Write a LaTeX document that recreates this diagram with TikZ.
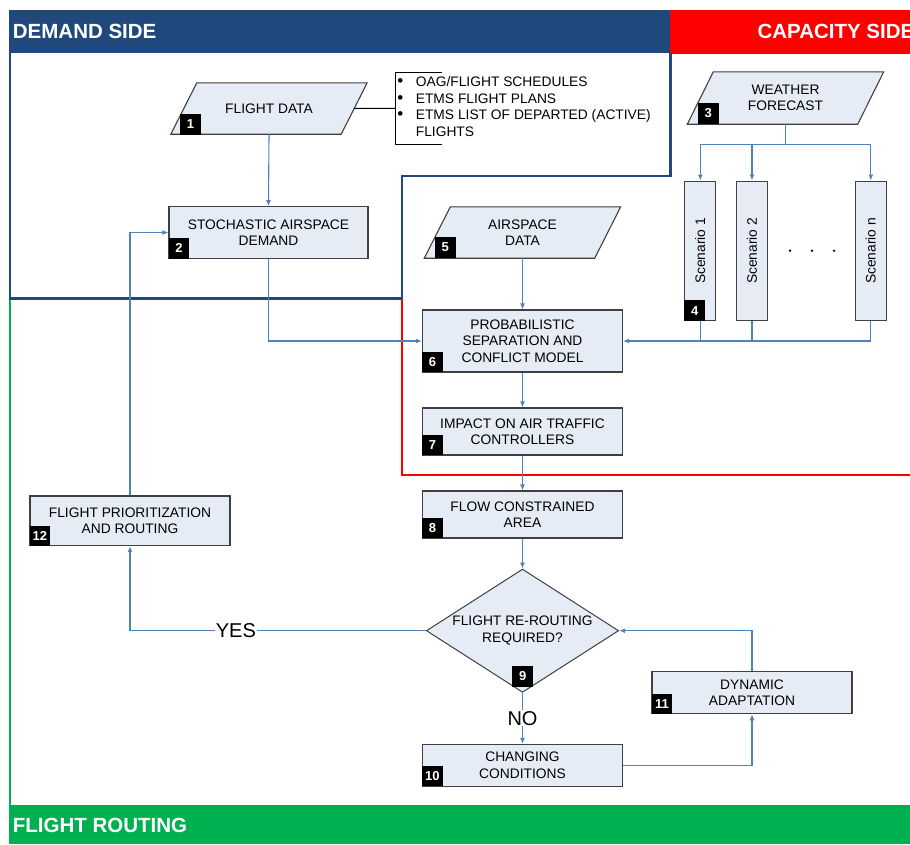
\documentclass[tikz,border=0pt]{standalone}
\usepackage{fontspec}
\setmainfont{Liberation Sans}
\usetikzlibrary{shapes.geometric,arrows.meta,calc}
\definecolor{demandblue}{RGB}{31,73,125}
\definecolor{capred}{RGB}{255,0,0}
\definecolor{routegreen}{RGB}{0,176,80}
\definecolor{boxfill}{RGB}{230,236,246}
\definecolor{boxedge}{RGB}{64,64,64}
\definecolor{linkblue}{RGB}{79,129,189}
\pgfdeclarelayer{background}
\pgfsetlayers{background,main}
\begin{document}
\begin{tikzpicture}[x=1pt,y=-1pt,
  every node/.style={font=\fontsize{13.8}{16.5}\selectfont},
  proc/.style={draw=boxedge, line width=1.1pt, fill=boxfill, minimum width=200pt,
    align=center, inner sep=0pt},
  % text area of a data parallelogram; the slanted outline is drawn behind it
  datatext/.style={minimum width=170pt, minimum height=51pt, align=center, inner sep=0pt},
  datashape/.style={draw=boxedge, line width=1.1pt, fill=boxfill, line join=miter},
  decision/.style={diamond, aspect=1.56, draw=boxedge, line width=1pt, fill=boxfill,
    minimum width=192.3pt, minimum height=123.3pt, align=center, inner sep=0pt},
  scen/.style={draw=boxedge, line width=1.1pt, fill=boxfill, minimum width=31pt,
    minimum height=139.5pt, inner sep=0pt},
  numbox/.style={fill=black, text=white, font=\bfseries\fontsize{13}{13}\selectfont,
    minimum size=20.5pt, inner sep=0pt},
  headtext/.style={text=white, font=\bfseries\fontsize{20.5}{22}\selectfont, inner sep=0pt},
  bigtext/.style={font=\fontsize{20}{22}\selectfont, fill=white, inner sep=1pt},
  link/.style={draw=linkblue, line width=1.1pt, -{Latex[length=6pt,width=5pt]}},
  linkline/.style={draw=linkblue, line width=1.1pt},
  region/.style={line width=2.4pt},
]
\useasboundingbox (0,0) rectangle (910,844);

% section headers
\fill[demandblue] (8.5,9.5) rectangle (670,53);
\fill[capred] (670,9.5) rectangle (912,54);
\fill[routegreen] (8.5,805) rectangle (912,844);
\node[headtext, anchor=base west] (hdemand) at (12.7,38.3) {DEMAND SIDE};
\node[headtext, anchor=base west] (hcap) at (757.3,38.3) {CAPACITY SIDE};
\node[headtext, anchor=base west] (hroute) at (12.7,832.7) {FLIGHT ROUTING};

% section outlines
\draw[routegreen, region] (10,298) -- (10,806);
\draw[capred, region] (402,176) -- (402,475) -- (912,475);
\draw[demandblue, region] (10,53) -- (10,298.5) -- (402,298.5) -- (402,176)
  -- (670.5,176) -- (670.5,53);

% data inputs
\node[datatext] (fd) at (269,108.5) {FLIGHT DATA};
\node[datatext, minimum height=52pt] (wf) at (785.5,98) {WEATHER\\FORECAST};
\node[datatext] (as) at (522.5,232.5) {AIRSPACE\\DATA};
\begin{pgfonlayer}{background}
  \foreach \d in {fd,wf,as}
    \draw[datashape] ([xshift=-13pt]\d.south west) -- ([xshift=13pt]\d.north west)
      -- ([xshift=13pt]\d.north east) -- ([xshift=-13pt]\d.south east) -- cycle;
\end{pgfonlayer}

% process nodes
\node[proc, minimum width=199pt, minimum height=51.7pt] (sad) at (268.5,232.5)
  {STOCHASTIC AIRSPACE\\DEMAND};
\node[proc, minimum height=62pt] (pm) at (522.5,341)
  {PROBABILISTIC\\SEPARATION AND\\CONFLICT MODEL};
\node[proc, minimum height=47pt] (ia) at (522.5,431.5)
  {IMPACT ON AIR TRAFFIC\\CONTROLLERS};
\node[proc, minimum height=47pt] (fca) at (522.5,514.5)
  {FLOW CONSTRAINED\\AREA};
\node[decision] (dec) at (522.5,630.7) {FLIGHT RE-ROUTING\\REQUIRED?};
\node[proc, minimum height=41.7pt] (cc) at (522.5,765.2)
  {CHANGING\\CONDITIONS};
\node[proc, minimum height=42pt] (da) at (752,692.7)
  {DYNAMIC\\ADAPTATION};
\node[proc, minimum height=49.7pt] (fpr) at (130,520.8)
  {FLIGHT PRIORITIZATION\\AND ROUTING};

% weather scenarios
\node[scen] (s1) at (700.3,250.8) {\rotatebox{90}{Scenario 1}};
\node[scen] (s2) at (752,250.8) {\rotatebox{90}{Scenario 2}};
\node[scen] (sn) at (870.8,250.8) {\rotatebox{90}{Scenario n}};
\fill (790,250.7) circle (1.3pt);
\fill (812,250.7) circle (1.3pt);
\fill (834,250.7) circle (1.3pt);

% flight data sources
\node[anchor=west, inner sep=0pt, minimum height=72pt] (lst) at (395.7,108.3)
  {\renewcommand{\arraystretch}{1.01}%
   \begin{tabular}{@{\hspace{1.5pt}}l@{\hspace{12.5pt}}l@{}}
   {\fontsize{17}{17}\selectfont\textbullet} & OAG/FLIGHT SCHEDULES\\
   {\fontsize{17}{17}\selectfont\textbullet} & ETMS FLIGHT PLANS\\
   {\fontsize{17}{17}\selectfont\textbullet} & ETMS LIST OF DEPARTED (ACTIVE)\\
               & FLIGHTS
   \end{tabular}};
\draw[black, line width=1pt] ([xshift=46pt]lst.north west) -- (lst.north west)
  -- (lst.south west) -- ([xshift=46pt]lst.south west);
\draw[black, line width=1pt] (fd.east) -- (lst.west);

% step numbers
\node[numbox] (n1) at (190.5,124.5) {1};
\node[numbox, anchor=south west] (n2) at (sad.south west) {2};
\node[numbox] (n3) at (708.3,113.3) {3};
\node[numbox, anchor=south west] (n4) at (s1.south west) {4};
\node[numbox] (n5) at (445.3,247.5) {5};
\node[numbox, anchor=south west] (n6) at (pm.south west) {6};
\node[numbox, anchor=south west] (n7) at (ia.south west) {7};
\node[numbox, anchor=south west] (n8) at (fca.south west) {8};
\node[numbox] (n9) at (522.7,676.3) {9};
\node[numbox, anchor=south west] (n10) at (cc.south west) {10};
\node[numbox, anchor=south west] (n11) at (da.south west) {11};
\node[numbox, anchor=south west] (n12) at (fpr.south west) {12};

% connectors
\draw[link] (fd.south) -- (sad.north);
\draw[link] (sad.south) |- (pm.west);
\draw[link] (as.south) -- (pm.north);
\coordinate (wsplit) at (785.5,144.3);
\draw[linkline] (wf.south) -- (wsplit);
\draw[link] (wsplit) -| (s1.north);
\draw[link] (wsplit) -| (s2.north);
\draw[link] (wsplit) -| (sn.north);
\draw[linkline] (s1.south) -- (s1.south |- pm.east);
\draw[linkline] (s2.south) -- (s2.south |- pm.east);
\draw[link] (sn.south) |- (pm.east);
\draw[link] (pm.south) -- (ia.north);
\draw[link] (ia.south) -- (fca.north);
\draw[link] (fca.south) -- (dec.north);
\draw[link] (dec.west) -| node[bigtext, pos=0.321] (yes) {YES} (fpr.south);
\draw[link] (dec.south) -- node[bigtext] (no) {NO} (cc.north);
\draw[link] (cc.east) -| (da.south);
\draw[link] (da.north) |- (dec.east);
\draw[link] (fpr.north) |- (sad.west);
\end{tikzpicture}
\end{document}
